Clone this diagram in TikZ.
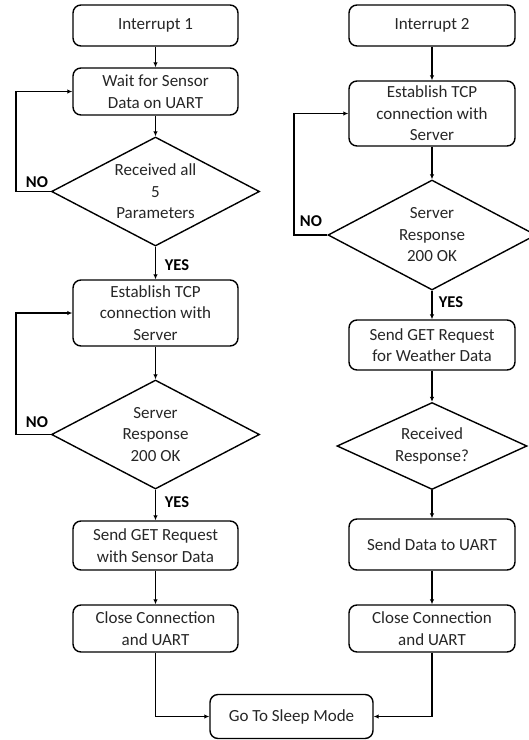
\documentclass[tikz,border=0pt]{standalone}
\usepackage{fontspec}
\setmainfont{Carlito}
\usetikzlibrary{shapes.geometric,arrows.meta}
\begin{document}
\begin{tikzpicture}[x=1pt,y=-1pt,
  box/.style={draw, line width=1.4pt, rounded corners=8pt, inner sep=0pt, align=center,
    font=\fontsize{17}{21.5}\selectfont, text=black!85, minimum width=165pt},
  dia/.style={draw, diamond, line width=1.4pt, inner sep=0pt},
  dtxt/.style={align=center, inner sep=0pt, font=\fontsize{17}{21.5}\selectfont, text=black!85},
  lab/.style={font=\fontsize{16.5}{20}\selectfont\bfseries, inner sep=0pt},
  arr/.style={line width=1.3pt, -{Latex[length=5pt,width=4.5pt]}},
  ln/.style={line width=1.3pt}]
\clip (0,0) rectangle (529,740);
% left column
\node[box, minimum height=41pt] (i1) at (155.5,25.5) {Interrupt 1};
\node[box, minimum height=47pt] (wait) at (155.5,91.5) {Wait for Sensor\\Data on UART};
\node[dia, minimum width=208pt, minimum height=109pt] (d1) at (155.5,191.5) {};
\node[dtxt] (d1t) at (d1.center) {Received all\\5\\Parameters};
\node[box, minimum height=66pt] (tcp1) at (155.5,313) {Establish TCP\\connection with\\Server};
\node[dia, minimum width=208pt, minimum height=109pt] (d2) at (155.5,434.5) {};
\node[dtxt] (d2t) at (d2.center) {Server\\Response\\200 OK};
\node[box, minimum height=49pt] (get1) at (155.5,545.5) {Send GET Request\\with Sensor Data};
\node[box, minimum height=47pt] (close1) at (155.5,628.5) {Close Connection\\and UART};
\node[box, minimum width=163pt, minimum height=44pt] (sleep) at (291.5,716.5) {Go To Sleep Mode};
% right column
\node[box, minimum width=166pt, minimum height=41pt] (i2) at (432,25.5) {Interrupt 2};
\node[box, minimum width=166pt, minimum height=65pt] (tcp2) at (432,113.5) {Establish TCP\\connection with\\Server};
\node[dia, minimum width=208pt, minimum height=110pt] (d3) at (432,235) {};
\node[dtxt] (d3t) at (d3.center) {Server\\Response\\200 OK};
\node[box, minimum width=166pt, minimum height=50pt] (get2) at (432,345) {Send GET Request\\for Weather Data};
\node[dia, minimum width=190pt, minimum height=87pt] (d4) at (432,446) {};
\node[dtxt] (d4t) at (d4.center) {Received\\Response?};
\node[box, minimum width=166pt, minimum height=51pt] (send) at (432,544.5) {Send Data to UART};
\node[box, minimum width=166pt, minimum height=47pt] (close2) at (432,628.5) {Close Connection\\and UART};
% labels
\node[lab] (no1) at (37,182) {NO};
\node[lab] (no2) at (37,422) {NO};
\node[lab] (no3) at (311,221) {NO};
\node[lab] (yes1) at (177,265) {YES};
\node[lab] (yes2) at (177,502) {YES};
\node[lab] (yes3) at (451,302) {YES};
% loop coordinates
\coordinate (lx1) at (16,0);
\coordinate (lx2) at (294,0);
% connectors left
\draw[arr] (i1.south) -- (wait.north);
\draw[arr] (wait.south) -- (d1.north);
\draw[arr] (d1.south) -- (tcp1.north);
\draw[arr] (tcp1.south) -- (d2.north);
\draw[arr] (d2.south) -- (get1.north);
\draw[arr] (get1.south) -- (close1.north);
\draw[arr] (close1.south) |- (sleep.west);
\draw[arr] (d1.west) -- (d1.west -| lx1) |- (wait.west);
\draw[arr] (d2.west) -- (d2.west -| lx1) |- (tcp1.west);
% connectors right
\draw[arr] (i2.south) -- (tcp2.north);
\draw[arr] (tcp2.south) -- (d3.north);
\draw[arr] (d3.south) -- (get2.north);
\draw[arr] (get2.south) -- (d4.north);
\draw[arr] (d4.south) -- (send.north);
\draw[arr] (send.south) -- (close2.north);
\draw[arr] (close2.south) |- (sleep.east);
\draw[arr] (d3.west) -- (d3.west -| lx2) |- (tcp2.west);
\end{tikzpicture}
\end{document}
